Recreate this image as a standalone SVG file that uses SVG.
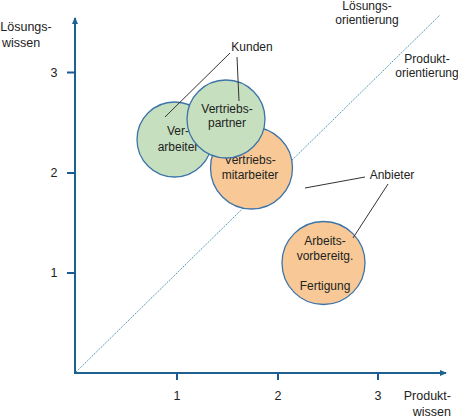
<svg xmlns="http://www.w3.org/2000/svg" width="458" height="420" viewBox="0 0 458 420">
<style>
text{font-family:"Liberation Sans",Arial,sans-serif;font-size:12px;fill:#222;text-anchor:middle}
.big{font-size:12.5px}
.axis{stroke:#1c6190;stroke-width:2;fill:none}
.tick{stroke:#1c5a94;stroke-width:2}
.lead{stroke:#333;stroke-width:1;fill:none}
.green{fill:#c6dfbf;stroke:#3d74a8;stroke-width:1.3}
.orange{fill:#f8c996;stroke:#3d74a8;stroke-width:1.3}
</style>
<defs>
<marker id="ah" markerWidth="8" markerHeight="8" refX="6" refY="4" orient="auto" markerUnits="userSpaceOnUse">
<path d="M0,1 L7,4 L0,7 Z" fill="#1c6190"/>
</marker>
</defs>
<g id="axes">
<line class="axis" x1="75" y1="373" x2="75" y2="18" marker-end="url(#ah)"/>
<line class="axis" x1="74" y1="373" x2="446" y2="373" marker-end="url(#ah)"/>
<line class="tick" x1="67" y1="72.5" x2="75" y2="72.5"/>
<line class="tick" x1="67" y1="173" x2="75" y2="173"/>
<line class="tick" x1="67" y1="273" x2="75" y2="273"/>
<line class="tick" x1="177" y1="373" x2="177" y2="380"/>
<line class="tick" x1="278" y1="373" x2="278" y2="380"/>
<line class="tick" x1="378" y1="373" x2="378" y2="380"/>
<text class="big" x="54" y="77">3</text>
<text class="big" x="54" y="177">2</text>
<text class="big" x="54" y="277">1</text>
<text class="big" x="177" y="400">1</text>
<text class="big" x="278" y="400">2</text>
<text class="big" x="378" y="400">3</text>
<text class="big" x="26" y="31">Lösungs-</text>
<text class="big" x="21" y="47">wissen</text>
<text class="big" x="451" y="400" style="text-anchor:end">Produkt-</text>
<text class="big" x="451" y="416" style="text-anchor:end">wissen</text>
</g>
<g id="diagonal">
<line x1="76" y1="372" x2="440" y2="15" stroke="#4a93b0" stroke-width="1" stroke-dasharray="1.5,1"/>
<text x="367" y="10">Lösungs-</text>
<text x="367" y="24">orientierung</text>
<text x="427" y="63">Produkt-</text>
<text x="427" y="77">orientierung</text>
</g>
<g id="vertriebsmitarbeiter">
<circle class="orange" cx="251.5" cy="168" r="41"/>
<text x="250" y="164">Vertriebs-</text>
<text x="250" y="179">mitarbeiter</text>
</g>
<g id="verarbeiter">
<circle class="green" cx="174.5" cy="139.5" r="37.5"/>
<text x="178" y="135">Ver-</text>
<text x="178" y="151">arbeiter</text>
</g>
<g id="vertriebspartner">
<circle class="green" cx="226" cy="119" r="39"/>
<text x="227" y="113">Vertriebs-</text>
<text x="227" y="127">partner</text>
</g>
<g id="arbeitsvorbereitung">
<circle class="orange" cx="323.5" cy="263" r="41.5"/>
<text x="325" y="245">Arbeits-</text>
<text x="325" y="260">vorbereitg.</text>
<text x="325" y="290">Fertigung</text>
</g>
<g id="connectors">
<line class="lead" x1="230" y1="53" x2="165" y2="117"/>
<line class="lead" x1="237" y1="57" x2="239" y2="101"/>
<line class="lead" x1="365" y1="177" x2="305" y2="188"/>
<line class="lead" x1="388" y1="184" x2="353" y2="238"/>
</g>
<g id="kunden"><text x="252" y="51">Kunden</text></g>
<g id="anbieter"><text x="392" y="179">Anbieter</text></g>
</svg>
